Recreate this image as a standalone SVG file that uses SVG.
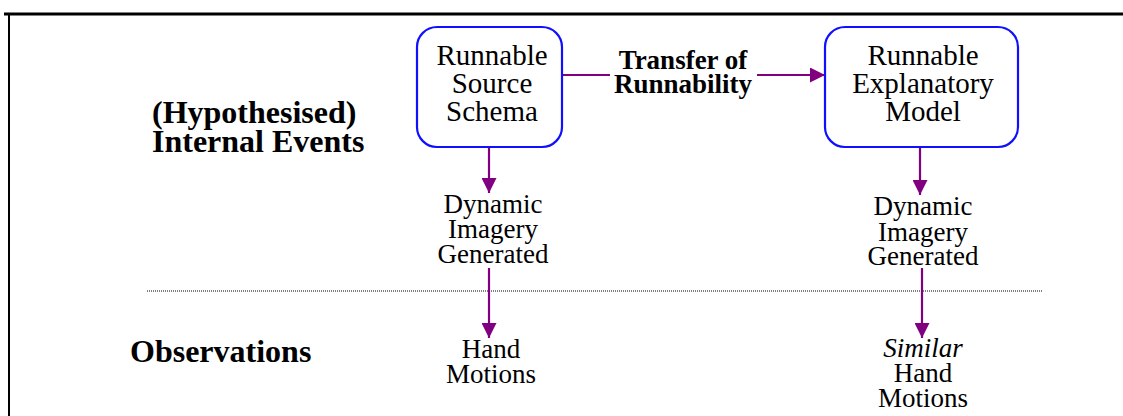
<svg xmlns="http://www.w3.org/2000/svg" width="1123" height="416" viewBox="0 0 1123 416">
<style>
.box{fill:#fff;stroke:#1010ff;stroke-width:2.2}
.t{font-family:"Liberation Serif","Times New Roman",serif;font-size:29px;fill:#000;text-anchor:middle}
.s{font-family:"Liberation Serif","Times New Roman",serif;font-size:27px;fill:#000;text-anchor:middle}
.b{font-family:"Liberation Serif","Times New Roman",serif;font-size:27px;font-weight:bold;fill:#000;text-anchor:middle}
.h{font-family:"Liberation Serif","Times New Roman",serif;font-size:32px;font-weight:bold;fill:#000}
.c{stroke:#800080;stroke-width:2.2;fill:none}
</style>
<defs>
<marker id="a" viewBox="0 0 14 14" refX="14" refY="7" markerWidth="15" markerHeight="15" markerUnits="userSpaceOnUse" orient="auto">
<path d="M0,0 L14,7 L0,14 z" fill="#800080"/>
</marker>
</defs>
<rect width="1123" height="416" fill="#fff"/>
<g id="frame">
<line x1="4" y1="14" x2="1123" y2="14" stroke="#000" stroke-width="3"/>
<line x1="9" y1="13" x2="9" y2="416" stroke="#000" stroke-width="2"/>
</g>
<g id="separator">
<line x1="147" y1="291" x2="1043" y2="291" stroke="#000" stroke-width="1" stroke-dasharray="1,1"/>
</g>
<g id="label-internal">
<text class="h" x="152" y="123">(Hypothesised)</text>
<text class="h" x="152" y="152">Internal Events</text>
</g>
<g id="label-observations">
<text class="h" x="130" y="362">Observations</text>
</g>
<g id="connectors">
<line class="c" x1="562" y1="75" x2="610" y2="75"/>
<line class="c" x1="757" y1="75" x2="825" y2="75" marker-end="url(#a)"/>
<line class="c" x1="489" y1="147" x2="489" y2="193" marker-end="url(#a)"/>
<line class="c" x1="489" y1="268" x2="489" y2="338" marker-end="url(#a)"/>
<line class="c" x1="920" y1="147" x2="920" y2="195" marker-end="url(#a)"/>
<line class="c" x1="922" y1="268" x2="922" y2="338" marker-end="url(#a)"/>
</g>
<g id="transfer-label">
<text class="b" x="683" y="69">Transfer of</text>
<text class="b" x="683" y="93">Runnability</text>
</g>
<g id="node-source">
<rect class="box" x="417" y="27" width="145" height="120" rx="20"/>
<text class="t" x="492" y="65">Runnable</text>
<text class="t" x="492" y="93">Source</text>
<text class="t" x="492" y="121">Schema</text>
</g>
<g id="node-model">
<rect class="box" x="825" y="27" width="193" height="120" rx="20"/>
<text class="t" x="923" y="65">Runnable</text>
<text class="t" x="923" y="93">Explanatory</text>
<text class="t" x="923" y="121">Model</text>
</g>
<g id="node-imagery-left">
<text class="s" x="493" y="213">Dynamic</text>
<text class="s" x="493" y="238">Imagery</text>
<text class="s" x="493" y="263">Generated</text>
</g>
<g id="node-hand-left">
<text class="s" x="491" y="358">Hand</text>
<text class="s" x="491" y="383">Motions</text>
</g>
<g id="node-imagery-right">
<text class="s" x="923" y="215">Dynamic</text>
<text class="s" x="923" y="241">Imagery</text>
<text class="s" x="923" y="265">Generated</text>
</g>
<g id="node-hand-right">
<text class="s" x="923" y="357" font-style="italic">Similar</text>
<text class="s" x="923" y="382">Hand</text>
<text class="s" x="923" y="407">Motions</text>
</g>
</svg>
